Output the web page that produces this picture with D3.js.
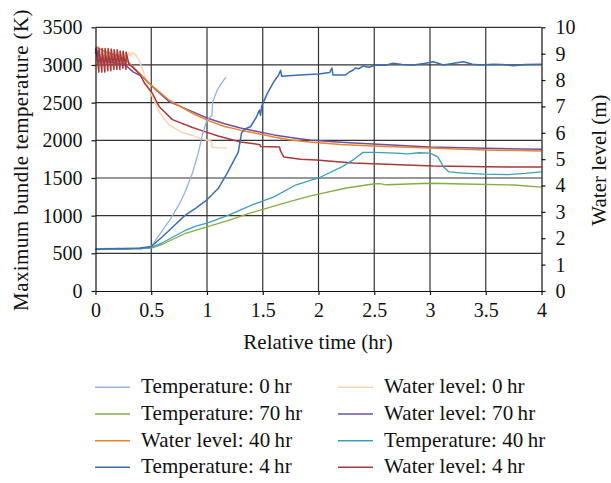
<!DOCTYPE html>
<html>
<head>
<meta charset="utf-8">
<script src="https://cdn.jsdelivr.net/npm/d3@7"></script>
<style>
  body { margin: 0; background: #fff; }
  .grid line { stroke: #333; stroke-width: 1.2; }
  .axis path, .axis line { stroke: #111; stroke-width: 1.2; }
  .series { fill: none; stroke-linejoin: round; }
</style>
</head>
<body>
<div id="chart"></div>
<script>
// ticks
const xTicks = [0, 0.5, 1, 1.5, 2, 2.5, 3, 3.5, 4]
const tempTicks = [0, 500, 1000, 1500, 2000, 2500, 3000, 3500]
const levelTicks = [0, 1, 2, 3, 4, 5, 6, 7, 8, 9, 10]

// temperature series, [hr, K]
const temp0 = [[0,560],[0.1,565],[0.2,558],[0.3,568],[0.4,563],[0.48,575],[0.5,590],[0.58,760],[0.67,950],[0.75,1150],[0.8,1300],[0.87,1570],[0.92,1820],[0.96,2080],[0.99,2230],[1.02,2300],[1.045,2330],[1.05,2500],[1.09,2660],[1.13,2760],[1.17,2840]]
const temp4 = [[0,555],[0.1,560],[0.2,565],[0.3,560],[0.4,570],[0.5,590],[0.6,720],[0.7,860],[0.8,1000],[0.9,1100],[1.0,1210],[1.1,1360],[1.18,1560],[1.24,1730],[1.28,1840],[1.31,2100],[1.34,2150],[1.39,2180],[1.44,2300],[1.47,2400],[1.48,2330],[1.49,2450],[1.54,2620],[1.6,2780],[1.64,2860],[1.66,2930],[1.67,2850],[1.83,2866],[2.0,2880],[2.1,2900],[2.12,2960],[2.13,2866],[2.24,2866],[2.28,2910],[2.31,2930],[2.33,2960],[2.36,2950],[2.4,2985],[2.45,2970],[2.52,3000],[2.6,2995],[2.67,3022],[2.75,3005],[2.85,3000],[2.95,3020],[3.03,3043],[3.12,3000],[3.2,3020],[3.3,3043],[3.38,3010],[3.45,3000],[3.57,3011],[3.65,3005],[3.75,2990],[3.85,3005],[4.0,3011]]
const temp40 = [[0,560],[0.1,555],[0.2,562],[0.3,565],[0.4,560],[0.5,580],[0.6,640],[0.7,720],[0.8,800],[0.9,860],[1.0,900],[1.2,1010],[1.4,1140],[1.6,1250],[1.8,1410],[2.0,1500],[2.2,1640],[2.3,1730],[2.4,1840],[2.5,1840],[2.7,1830],[2.8,1820],[2.9,1835],[3.0,1830],[3.07,1780],[3.12,1650],[3.17,1580],[3.3,1565],[3.48,1550],[3.7,1545],[3.85,1560],[4.0,1580]]
const temp70 = [[0,550],[0.25,555],[0.5,570],[0.6,620],[0.7,690],[0.8,760],[1.0,850],[1.2,940],[1.4,1040],[1.54,1100],[1.7,1170],[1.92,1260],[2.0,1287],[2.25,1367],[2.49,1420],[2.55,1425],[2.61,1410],[3.0,1430],[3.3,1420],[3.75,1407],[4.0,1380]]

// water level series, [hr, m]
const level0 = [[0,8.4],[0.005,9.2],[0.02,8.7],[0.03,9.2],[0.045,8.6],[0.06,9.2],[0.075,8.7],[0.09,9.15],[0.105,8.7],[0.12,9.1],[0.135,8.75],[0.15,9.1],[0.165,8.75],[0.18,9.05],[0.195,8.8],[0.21,9.05],[0.225,8.8],[0.24,9.05],[0.255,8.85],[0.27,9.05],[0.285,8.85],[0.3,9.05],[0.315,8.9],[0.33,9.05],[0.36,8.95],[0.39,8.76],[0.43,8.3],[0.46,7.88],[0.51,7.37],[0.57,6.8],[0.66,6.3],[0.78,6.0],[0.87,5.9],[0.94,5.78],[1.04,5.68],[1.045,5.45],[1.1,5.43],[1.18,5.42]]
const level4 = [[0,9.0],[0.005,9.2],[0.03,8.3],[0.032,9.2],[0.057,8.3],[0.059,9.2],[0.084,8.3],[0.086,9.2],[0.111,8.35],[0.113,9.2],[0.138,8.35],[0.14,9.18],[0.165,8.4],[0.167,9.15],[0.192,8.4],[0.194,9.15],[0.219,8.4],[0.221,9.1],[0.246,8.45],[0.248,9.1],[0.273,8.4],[0.275,9.05],[0.30,8.6],[0.33,8.5],[0.4,8.2],[0.44,7.88],[0.51,7.5],[0.57,7.0],[0.69,6.5],[0.87,6.2],[0.94,6.1],[1.1,5.88],[1.3,5.65],[1.475,5.55],[1.48,5.48],[1.65,5.46],[1.66,5.3],[1.69,5.08],[1.84,5.0],[1.98,4.97],[2.31,4.85],[2.49,4.83],[3.03,4.74],[3.5,4.71],[4.0,4.70]]
const level40 = [[0,9.2],[0.02,9.25],[0.05,9.15],[0.1,9.05],[0.18,8.95],[0.26,8.82],[0.35,8.45],[0.48,7.88],[0.66,7.24],[0.87,6.74],[1.0,6.48],[1.15,6.25],[1.3,6.1],[1.45,5.97],[1.6,5.84],[1.75,5.73],[1.92,5.65],[2.2,5.56],[2.49,5.5],[3.0,5.42],[3.5,5.35],[4.0,5.31]]
const level70 = [[0,9.1],[0.01,9.2],[0.02,8.9],[0.03,9.1],[0.04,8.75],[0.06,8.8],[0.1,8.7],[0.15,8.68],[0.2,8.62],[0.26,8.6],[0.34,8.3],[0.42,8.13],[0.48,7.88],[0.55,7.6],[0.66,7.18],[0.87,6.8],[1.0,6.56],[1.15,6.35],[1.3,6.18],[1.45,6.05],[1.6,5.92],[1.75,5.82],[1.92,5.73],[2.2,5.64],[2.49,5.57],[3.0,5.46],[3.5,5.41],[4.0,5.38]]

const legendLabels = [
  'Temperature: 0\u2009hr', 'Temperature: 70\u2009hr', 'Water level: 40\u2009hr', 'Temperature: 4\u2009hr',
  'Water level: 0\u2009hr', 'Water level: 70\u2009hr', 'Temperature: 40\u2009hr', 'Water level: 4\u2009hr'
]

const series = [
  { name: legendLabels[4], data: level0, axis: 'level', color: '#fbd3b2', width: 1.5 },
  { name: legendLabels[5], data: level70, axis: 'level', color: '#6f4f9f', width: 1.5 },
  { name: legendLabels[2], data: level40, axis: 'level', color: '#e8822e', width: 1.5 },
  { name: legendLabels[7], data: level4, axis: 'level', color: '#a8383a', width: 1.5 },
  { name: legendLabels[0], data: temp0, axis: 'temp', color: '#96b3da', width: 1.3 },
  { name: legendLabels[1], data: temp70, axis: 'temp', color: '#86ad45', width: 1.3 },
  { name: legendLabels[6], data: temp40, axis: 'temp', color: '#3aa0bc', width: 1.3 },
  { name: legendLabels[3], data: temp4, axis: 'temp', color: '#3c6db0', width: 1.5 },
]

const FONT = '"Liberation Serif", "DejaVu Serif", serif'
const width = 611
const height = 483
const plotLeft = 95.5, plotRight = 541.5, plotTop = 27.3, plotBottom = 291

const svg = d3.select('#chart').append('svg')
  .attr('width', width)
  .attr('height', height)

const x = d3.scaleLinear().domain([0, 4]).range([plotLeft, plotRight])
const yTemp = d3.scaleLinear().domain([0, 3500]).range([plotBottom, plotTop])
const yLevel = d3.scaleLinear().domain([0, 10]).range([plotBottom, plotTop])

// grid
const grid = svg.append('g').attr('class', 'grid')
grid.selectAll('.h').data(tempTicks.slice(1)).enter().append('line')
  .attr('x1', plotLeft).attr('x2', plotRight)
  .attr('y1', d => yTemp(d)).attr('y2', d => yTemp(d))
grid.selectAll('.v').data(xTicks.slice(1, -1)).enter().append('line')
  .attr('x1', d => x(d)).attr('x2', d => x(d))
  .attr('y1', plotTop).attr('y2', plotBottom)

// lines
const plot = svg.append('g')
series.forEach(s => {
  const y = s.axis === 'temp' ? yTemp : yLevel
  plot.append('path')
    .datum(s.data)
    .attr('class', 'series')
    .attr('stroke', s.color)
    .attr('stroke-width', s.width)
    .attr('d', d3.line().x(d => x(d[0])).y(d => y(d[1])))
})

// axes
svg.append('g').attr('class', 'axis')
  .attr('transform', `translate(0,${plotBottom})`)
  .call(d3.axisBottom(x).tickValues(xTicks).tickFormat(d => String(d)).tickSize(4).tickSizeOuter(0))
  .call(g => g.selectAll('text').attr('y', 26).attr('dy', 0))

svg.append('g').attr('class', 'axis')
  .attr('transform', `translate(${plotLeft},0)`)
  .call(d3.axisLeft(yTemp).tickValues(tempTicks).tickFormat(d => String(d)).tickSize(4).tickSizeOuter(0).tickPadding(9))

svg.append('g').attr('class', 'axis')
  .attr('transform', `translate(${plotRight},0)`)
  .call(d3.axisRight(yLevel).tickValues(levelTicks).tickFormat(d => String(d)).tickSize(4).tickSizeOuter(0).tickPadding(10))

svg.selectAll('.axis').attr('font-family', FONT).attr('font-size', 20)
svg.selectAll('.axis .domain').attr('stroke', '#111')
svg.selectAll('.axis text').attr('fill', '#111')

// axis titles
const titles = svg.append('g').attr('font-family', FONT).attr('font-size', 21).attr('fill', '#111')
titles.append('text')
  .attr('x', (plotLeft + plotRight) / 2 - 0.5).attr('y', 349)
  .attr('text-anchor', 'middle')
  .text('Relative time (hr)')

titles.append('text')
  .attr('transform', 'translate(28,160) rotate(-90)')
  .attr('text-anchor', 'middle')
  .attr('letter-spacing', 0.4)
  .text('Maximum bundle temperature (K)')

titles.append('text')
  .attr('transform', 'translate(606,160) rotate(-90)')
  .attr('text-anchor', 'middle')
  .text('Water level (m)')

// legend
const colorByName = {}
series.forEach(s => { colorByName[s.name] = s.color })
const legend = svg.append('g').attr('font-family', FONT).attr('font-size', 21)
  .attr('letter-spacing', 0.1).attr('fill', '#111')
legendLabels.forEach((name, i) => {
  const col = Math.floor(i / 4)
  const row = i % 4
  const lx = col === 0 ? 95 : 338
  const ly = 387.3 + row * 26.67
  legend.append('line')
    .attr('x1', lx).attr('x2', lx + 35)
    .attr('y1', ly).attr('y2', ly)
    .attr('stroke', colorByName[name]).attr('stroke-width', 1.5)
  legend.append('text')
    .attr('x', lx + 46).attr('y', ly + 6)
    .text(name)
})
</script>
</body>
</html>
